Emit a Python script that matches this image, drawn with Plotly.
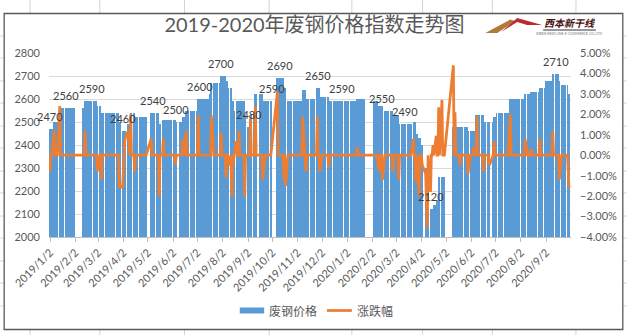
import pandas as pd
import plotly.graph_objects as go

# ---------------- data ----------------
first_day, last_day = "2019-01-02", "2020-09-30"

# market closed (no index published)
closed_from = ["2019-02-04", "2019-04-05", "2019-05-01", "2019-06-07", "2019-09-13",
               "2019-10-01", "2020-01-01", "2020-01-23", "2020-04-06", "2020-05-01",
               "2020-06-25"]
closed_to = ["2019-02-08", "2019-04-05", "2019-05-03", "2019-06-07", "2019-09-13",
             "2019-10-07", "2020-01-01", "2020-01-31", "2020-04-06", "2020-05-08",
             "2020-06-26"]

# scrap steel price index: date of each level change and the new level
price_dates = ["2019-01-02", "2019-01-07", "2019-01-14", "2019-02-14", "2019-03-01",
               "2019-03-06", "2019-03-28", "2019-04-01", "2019-04-08", "2019-04-11",
               "2019-04-16", "2019-05-06", "2019-05-16", "2019-05-21", "2019-06-05",
               "2019-06-14", "2019-06-18", "2019-07-03", "2019-07-17", "2019-07-19",
               "2019-07-31", "2019-08-06", "2019-08-08", "2019-08-13", "2019-08-16",
               "2019-08-19", "2019-08-29", "2019-09-02", "2019-09-05", "2019-09-11",
               "2019-09-20", "2019-10-08", "2019-10-16", "2019-10-18", "2019-11-08",
               "2019-11-12", "2019-11-26", "2019-11-29", "2019-12-10", "2020-01-14",
               "2020-02-03", "2020-02-10", "2020-02-14", "2020-02-27", "2020-03-05",
               "2020-03-23", "2020-03-26", "2020-03-30", "2020-04-01", "2020-04-07",
               "2020-04-08", "2020-04-10", "2020-04-17", "2020-04-21", "2020-04-23",
               "2020-05-11", "2020-05-29", "2020-06-08", "2020-06-17", "2020-06-30",
               "2020-07-03", "2020-07-20", "2020-08-07", "2020-08-14", "2020-08-25",
               "2020-09-02", "2020-09-10", "2020-09-17", "2020-09-21", "2020-09-29"]
price_values = [2470, 2500, 2560, 2590, 2570,
                2540, 2500, 2460, 2490, 2540,
                2520, 2540, 2490, 2510, 2500,
                2520, 2550, 2600, 2620, 2670,
                2700, 2680, 2650, 2590, 2550,
                2590, 2530, 2480, 2530, 2620,
                2590, 2690, 2650, 2590, 2640,
                2600, 2650, 2610, 2590, 2600,
                2590, 2570, 2550, 2530, 2490,
                2500, 2450, 2430, 2400, 2300,
                2240, 2120, 2140, 2160, 2260,
                2480, 2460, 2530, 2500, 2520,
                2540, 2600, 2620, 2630, 2650,
                2680, 2710, 2680, 2660, 2620]

# daily change (%) on the days it was not zero
chg_dates = ["2019-01-02", "2019-01-07", "2019-01-14", "2019-02-14", "2019-03-01",
             "2019-03-06", "2019-03-28", "2019-03-29", "2019-04-01", "2019-04-02",
             "2019-04-03", "2019-04-04", "2019-04-08", "2019-04-09", "2019-04-11",
             "2019-04-16", "2019-05-06", "2019-05-16", "2019-05-21", "2019-06-05",
             "2019-06-14", "2019-06-18", "2019-07-03", "2019-07-19", "2019-07-31",
             "2019-08-06", "2019-08-09", "2019-08-13", "2019-08-15", "2019-08-19",
             "2019-08-22", "2019-08-29", "2019-09-05", "2019-09-11", "2019-09-20",
             "2019-10-08", "2019-10-16", "2019-10-18", "2019-11-08", "2019-11-12",
             "2019-11-26", "2019-11-29", "2019-12-10", "2020-01-14", "2020-02-10",
             "2020-02-14", "2020-02-27", "2020-03-05", "2020-03-23", "2020-03-26",
             "2020-03-30", "2020-04-02", "2020-04-03", "2020-04-07", "2020-04-08",
             "2020-04-09", "2020-04-13", "2020-04-16", "2020-04-20", "2020-04-23",
             "2020-04-27", "2020-05-11", "2020-05-13", "2020-05-19", "2020-05-29",
             "2020-06-05", "2020-06-09", "2020-06-17", "2020-06-24", "2020-06-30",
             "2020-07-20", "2020-08-07", "2020-08-14", "2020-08-25", "2020-09-10",
             "2020-09-18", "2020-09-29", "2020-09-30"]
chg_values = [-0.8, 1.2, 2.4, 1.2, -0.8,
              -1.2, -1.6, -1.5, -1.6, -0.8,
              0.3, 0.8, 1.2, 0.4, 2.0,
              -0.8, 0.8, -2.0, 0.8, -0.45,
              0.8, 1.2, 1.95, 1.95, 1.1,
              -1.1, -0.5, -2.0, -0.4, 0.7,
              1.2, -2.0, 1.8, 2.4, -1.2,
              3.1, -1.2, -1.5, 1.9, -0.8,
              1.9, -0.8, -0.6, 0.4, -0.8,
              -1.2, -0.8, -1.2, 0.8, -1.3,
              -2.0, -0.2, -0.5, -0.9, -2.3,
              -3.55, -1.8, 0.5, 0.95, 2.35,
              2.7, 4.4, 2.1, -0.5, -0.9,
              0.4, 1.9, -0.8, -0.5, 0.7,
              2.0, 0.8, 0.3, 0.8, 1.2,
              -1.2, -0.8, -1.6]

# values shown as data labels: where and what
label_dates = ["2019-01-02", "2019-01-22", "2019-02-22", "2019-04-01", "2019-05-08",
               "2019-06-06", "2019-07-05", "2019-07-31", "2019-09-03", "2019-10-01",
               "2019-10-11", "2019-11-27", "2019-12-26", "2020-02-14", "2020-03-13",
               "2020-04-14", "2020-09-14"]
label_values = [2470, 2560, 2590, 2460, 2540, 2500, 2600, 2700, 2480, 2590,
                2690, 2650, 2590, 2550, 2490, 2120, 2710]

tick_labels = ["2019/1/2", "2019/2/2", "2019/3/2", "2019/4/2", "2019/5/2", "2019/6/2",
               "2019/7/2", "2019/8/2", "2019/9/2", "2019/10/2", "2019/11/2", "2019/12/2",
               "2020/1/2", "2020/2/2", "2020/3/2", "2020/4/2", "2020/5/2", "2020/6/2",
               "2020/7/2", "2020/8/2", "2020/9/2"]

# ---------------- build daily series ----------------
days = pd.bdate_range(first_day, last_day)
closed = pd.DatetimeIndex([])
for a, b in zip(closed_from, closed_to):
    closed = closed.union(pd.date_range(a, b))
days = days.difference(closed)

price = pd.Series(price_values, index=pd.to_datetime(price_dates)).reindex(days, method="ffill")
chg = pd.Series(0.0, index=days)
for d, v in zip(chg_dates, chg_values):
    i = min(days.searchsorted(pd.Timestamp(d)), len(days) - 1)
    chg.iloc[i] = v / 100.0

tick_vals = [pd.to_datetime(t, format="%Y/%m/%d") for t in tick_labels]

# ---------------- figure ----------------
TXT = "#595959"
FONT = "Lato, Noto Sans CJK SC, sans-serif"
CJK = "Noto Sans CJK SC, sans-serif"
L, R, T, B = 49, 56, 53, 98
W, H = 629, 335
PW, PH = W - L - R, H - T - B


def px(x):
    return (x - L) / PW


def py(y):
    return (H - B - y) / PH


fig = go.Figure()
fig.add_bar(x=days, y=price.values, name="废钢价格", marker=dict(color="#5B9BD5", line=dict(width=0)),
            yaxis="y", showlegend=False)
fig.add_scatter(x=days, y=chg.values, name="涨跌幅", mode="lines",
                line=dict(color="#ED7D31", width=2.75), yaxis="y2", showlegend=False)

annotations = []
for d, v in zip(label_dates, label_values):
    annotations.append(dict(x=pd.Timestamp(d), y=v, xref="x", yref="y", text=str(v),
                            showarrow=False, yanchor="bottom", yshift=4,
                            font=dict(family=FONT, size=11, color="#404040")))

# legend drawn like the Excel one
annotations.append(dict(x=px(268), y=py(310.5), xref="paper", yref="paper", text="废钢价格",
                        showarrow=False, xanchor="left", yanchor="middle",
                        font=dict(family=CJK, size=12, color=TXT)))
annotations.append(dict(x=px(356), y=py(310.5), xref="paper", yref="paper", text="涨跌幅",
                        showarrow=False, xanchor="left", yanchor="middle",
                        font=dict(family=CJK, size=12, color=TXT)))
# logo text
annotations.append(dict(x=px(571), y=py(23), xref="paper", yref="paper", text="<b><i>西本新干线</i></b>",
                        showarrow=False, xanchor="center", yanchor="middle",
                        font=dict(family=CJK, size=10, color="#4A1010")))
annotations.append(dict(x=px(571), y=py(34.5), xref="paper", yref="paper",
                        text="XIBEN NEW LINE E-COMMERCE CO.,LTD",
                        showarrow=False, xanchor="center", yanchor="middle",
                        font=dict(family=FONT, size=3.5, color="#777777")))

shapes = []
# spreadsheet grid showing around the chart
for gx in [30, 100, 185, 270, 353, 424, 494, 578]:
    shapes.append(dict(type="line", xref="paper", yref="paper", x0=px(gx), x1=px(gx),
                       y0=py(0), y1=py(13), line=dict(color="#D4D4D4", width=1)))
    shapes.append(dict(type="line", xref="paper", yref="paper", x0=px(gx), x1=px(gx),
                       y0=py(330), y1=py(335), line=dict(color="#D4D4D4", width=1)))
for gy in [36, 58, 81, 103, 126, 148, 171, 193, 216, 238, 261, 283, 306]:
    shapes.append(dict(type="line", xref="paper", yref="paper", x0=px(0), x1=px(3.5),
                       y0=py(gy), y1=py(gy), line=dict(color="#D4D4D4", width=1)))
    shapes.append(dict(type="line", xref="paper", yref="paper", x0=px(625.5), x1=px(629),
                       y0=py(gy), y1=py(gy), line=dict(color="#D4D4D4", width=1)))
# chart frame
shapes.append(dict(type="rect", xref="paper", yref="paper", x0=px(4), x1=px(625), y0=py(329.5), y1=py(13.5),
                   line=dict(color="#595959", width=1.3), fillcolor="rgba(0,0,0,0)"))
# legend symbols
shapes.append(dict(type="rect", xref="paper", yref="paper", x0=px(240.5), x1=px(265), y0=py(313.5), y1=py(307.5),
                   line=dict(width=0), fillcolor="#5B9BD5"))
shapes.append(dict(type="line", xref="paper", yref="paper", x0=px(328), x1=px(353), y0=py(310.5), y1=py(310.5),
                   line=dict(color="#ED7D31", width=2.75)))
# logo mountains
shapes.append(dict(type="path", xref="paper", yref="paper",
                   path=(f"M {px(487)},{py(33)} L {px(512)},{py(19.5)} L {px(517)},{py(21)} "
                         f"L {px(499)},{py(33)} Z"),
                   fillcolor="#B07A3A", line=dict(width=0)))
shapes.append(dict(type="path", xref="paper", yref="paper",
                   path=(f"M {px(503)},{py(32)} L {px(519)},{py(18)} L {px(544)},{py(25)} "
                         f"L {px(529)},{py(25)} L {px(519)},{py(22)} Z"),
                   fillcolor="#C0282D", line=dict(width=0)))
shapes.append(dict(type="line", xref="paper", yref="paper", x0=px(545), x1=px(598), y0=py(30), y1=py(30),
                   line=dict(color="#333333", width=1)))

fig.update_layout(
    width=W, height=H, autosize=False,
    margin=dict(l=L, r=R, t=T, b=B),
    paper_bgcolor="white", plot_bgcolor="white",
    bargap=0,
    title=dict(text="2019-2020年废钢价格指数走势图", x=0.5, xref="container", xanchor="center",
               y=1 - 25 / H, yref="container", yanchor="middle",
               font=dict(family=FONT, size=20, color=TXT)),
    xaxis=dict(type="date", range=["2018-12-31 18:00", "2020-10-02 09:00"],
               tickvals=tick_vals, ticktext=tick_labels, tickangle=-45,
               showgrid=False, showline=True, linecolor="#BFBFBF", linewidth=1,
               ticks="outside", ticklen=4, tickcolor="#BFBFBF",
               tickfont=dict(family=FONT, size=11, color=TXT)),
    yaxis=dict(range=[2000, 2800], dtick=100, showgrid=True, gridcolor="#D9D9D9", gridwidth=1,
               zeroline=False, ticks="", ticklabelstandoff=8,
               tickfont=dict(family=FONT, size=11, color=TXT)),
    yaxis2=dict(range=[-0.04, 0.05], dtick=0.01, tickformat=".2%", overlaying="y", side="right",
                showgrid=False, zeroline=False, ticks="", ticklabelstandoff=8,
                tickfont=dict(family=FONT, size=11, color=TXT)),
    annotations=annotations,
    shapes=shapes,
)

fig.write_html("out.html")
